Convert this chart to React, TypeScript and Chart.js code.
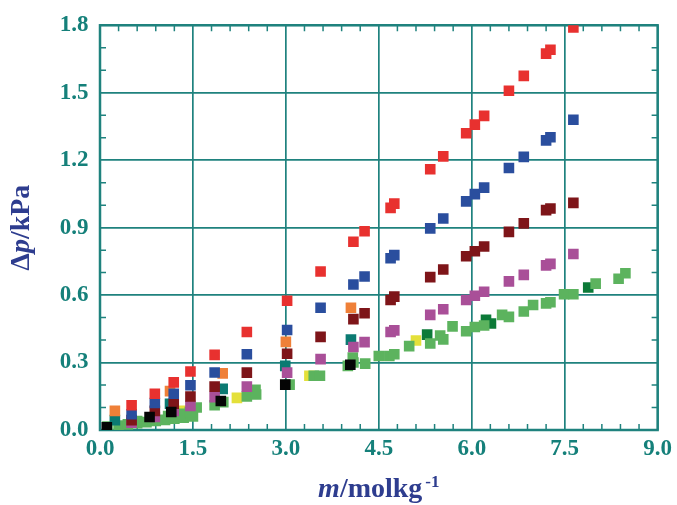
import React, { useEffect, useRef } from 'react';
import { Chart, registerables } from 'chart.js';

Chart.register(...registerables);

// ---- data ----
const X_MIN = 0;
const X_MAX = 9;
const X_STEP = 1.5;
const X_MINOR = 0.3;
const Y_MIN = 0;
const Y_MAX = 1.8;
const Y_STEP = 0.3;
const Y_MINOR = 0.1;

const mainX = [0.51, 0.885, 1.19, 1.46, 1.85, 2.37, 3.02, 3.56, 4.09, 4.27, 4.69, 4.75, 5.33, 5.54, 5.91, 6.05, 6.2, 6.6, 6.84, 7.2, 7.27, 7.64];
const redY = [0.11, 0.161, 0.212, 0.26, 0.334, 0.436, 0.575, 0.705, 0.837, 0.884, 0.988, 1.007, 1.16, 1.217, 1.32, 1.358, 1.397, 1.509, 1.575, 1.674, 1.691, 1.79];
const blueY = [0.07, 0.12, 0.161, 0.199, 0.256, 0.337, 0.445, 0.544, 0.647, 0.683, 0.764, 0.778, 0.897, 0.941, 1.017, 1.049, 1.078, 1.165, 1.215, 1.288, 1.302, 1.38];
const darkRedY = [0.044, 0.085, 0.117, 0.149, 0.193, 0.255, 0.339, 0.414, 0.493, 0.519, 0.578, 0.593, 0.68, 0.714, 0.773, 0.795, 0.816, 0.881, 0.919, 0.978, 0.985, 1.01];
const magentaY = [0.032, 0.058, 0.085, 0.107, 0.146, 0.193, 0.255, 0.315, 0.369, 0.391, 0.436, 0.443, 0.512, 0.537, 0.578, 0.597, 0.615, 0.661, 0.69, 0.732, 0.739, 0.783];

const orangeX = [0.24, 1.13, 1.98, 3.0, 4.05];
const orangeY = [0.085, 0.173, 0.252, 0.392, 0.544];
const tealX = [0.24, 1.13, 1.98, 2.99, 4.05];
const tealY = [0.044, 0.117, 0.183, 0.285, 0.402];
const blackX = [0.11, 0.8, 1.15, 1.95, 2.99, 4.04];
const blackY = [0.012, 0.058, 0.08, 0.129, 0.202, 0.29];
const yellowX = [1.34, 2.21, 3.38, 5.1];
const yellowY = [0.085, 0.143, 0.241, 0.398];
const darkGreenX = [5.28, 6.23, 6.31, 7.88];
const darkGreenY = [0.424, 0.49, 0.474, 0.634];
const greenX = [0.12, 0.3, 0.45, 0.6, 0.75, 0.9, 1.05, 1.2, 1.35, 1.5, 0.6, 0.85, 1.1, 1.3, 1.45, 1.56, 1.85, 1.99, 2.37, 2.51, 2.52, 3.06, 3.45, 3.55, 4.0, 4.08, 4.09, 4.28, 4.5, 4.67, 4.75, 4.99, 5.33, 5.49, 5.54, 5.69, 5.91, 6.05, 6.2, 6.49, 6.6, 6.84, 6.99, 7.2, 7.27, 7.49, 7.64, 8.0, 8.37, 8.48];
const greenY = [0.015, 0.02, 0.025, 0.03, 0.035, 0.04, 0.045, 0.05, 0.055, 0.06, 0.04, 0.05, 0.062, 0.072, 0.08, 0.1, 0.11, 0.124, 0.149, 0.179, 0.158, 0.202, 0.241, 0.241, 0.285, 0.322, 0.3, 0.295, 0.329, 0.329, 0.337, 0.373, 0.385, 0.42, 0.403, 0.461, 0.439, 0.458, 0.465, 0.512, 0.503, 0.527, 0.556, 0.563, 0.568, 0.604, 0.604, 0.651, 0.673, 0.697];

const X_TITLE_ITALIC = 'm';
const X_TITLE_REST = '/molkg';
const X_TITLE_SUP = '-1';
const Y_TITLE_A = 'Δ';
const Y_TITLE_ITALIC = 'p';
const Y_TITLE_REST = '/kPa';

// ---- styles ----
const TEAL = '#1f827e';
const LABEL_TEAL = '#15807a';
const TITLE_BLUE = '#2e3d8f';
const FONT = '"Liberation Serif", "Times New Roman", serif';

const pts = (xs: number[], ys: number[]) => xs.map((x, i) => ({ x, y: ys[i] }));

const decorPlugin = {
  id: 'decor',
  beforeDatasetsDraw(chart: any) {
    const { ctx, chartArea: a, scales } = chart;
    const xs = scales.x;
    const ys = scales.y;
    ctx.save();
    ctx.strokeStyle = TEAL;
    ctx.lineWidth = 1.5;
    const len = 6;
    for (let v = X_MIN + X_MINOR; v < X_MAX - 1e-6; v += X_MINOR) {
      const r = v / X_STEP;
      if (Math.abs(r - Math.round(r)) < 1e-6) continue;
      const px = xs.getPixelForValue(v);
      ctx.beginPath();
      ctx.moveTo(px, a.bottom);
      ctx.lineTo(px, a.bottom - len);
      ctx.moveTo(px, a.top);
      ctx.lineTo(px, a.top + len);
      ctx.stroke();
    }
    for (let v = Y_MIN + Y_MINOR; v < Y_MAX - 1e-6; v += Y_MINOR) {
      const r = v / Y_STEP;
      if (Math.abs(r - Math.round(r)) < 1e-6) continue;
      const py = ys.getPixelForValue(v);
      ctx.beginPath();
      ctx.moveTo(a.left, py);
      ctx.lineTo(a.left + len, py);
      ctx.moveTo(a.right, py);
      ctx.lineTo(a.right - len, py);
      ctx.stroke();
    }
    ctx.lineWidth = 2.5;
    ctx.strokeRect(a.left, a.top, a.right - a.left, a.bottom - a.top);
    ctx.restore();
  },
  afterDraw(chart: any) {
    const { ctx, chartArea: a } = chart;
    ctx.save();
    ctx.fillStyle = TITLE_BLUE;
    ctx.textBaseline = 'alphabetic';
    ctx.textAlign = 'left';
    const fN = `bold 28px ${FONT}`;
    const fI = `italic bold 28px ${FONT}`;
    const fS = `bold 17px ${FONT}`;
    // x title
    ctx.font = fI;
    const w1 = ctx.measureText(X_TITLE_ITALIC).width;
    ctx.font = fN;
    const w2 = ctx.measureText(X_TITLE_REST).width;
    ctx.font = fS;
    const w3 = ctx.measureText(X_TITLE_SUP).width;
    const cx = (a.left + a.right) / 2;
    let x0 = cx - (w1 + w2 + w3 + 3) / 2;
    const by = 497;
    ctx.font = fI;
    ctx.fillText(X_TITLE_ITALIC, x0, by);
    x0 += w1;
    ctx.font = fN;
    ctx.fillText(X_TITLE_REST, x0, by);
    x0 += w2 + 3;
    ctx.font = fS;
    ctx.fillText(X_TITLE_SUP, x0, by - 10);
    // y title
    ctx.font = fN;
    const v1 = ctx.measureText(Y_TITLE_A).width;
    ctx.font = fI;
    const v2 = ctx.measureText(Y_TITLE_ITALIC).width;
    ctx.font = fN;
    const v3 = ctx.measureText(Y_TITLE_REST).width;
    const cy = (a.top + a.bottom) / 2;
    ctx.translate(29, cy);
    ctx.rotate(-Math.PI / 2);
    let t = -(v1 + v2 + v3) / 2;
    ctx.font = fN;
    ctx.fillText(Y_TITLE_A, t, 0);
    t += v1;
    ctx.font = fI;
    ctx.fillText(Y_TITLE_ITALIC, t, 0);
    t += v2;
    ctx.font = fN;
    ctx.fillText(Y_TITLE_REST, t, 0);
    ctx.restore();
  },
};

export default function App() {
  const ref = useRef<HTMLCanvasElement | null>(null);
  useEffect(() => {
    if (!ref.current) return;
    const mk = (label: string, xs: number[], ys: number[], color: string) => ({
      label,
      data: pts(xs, ys),
      backgroundColor: color,
      borderColor: color,
      borderWidth: 0,
      pointStyle: 'rect',
      pointRadius: 7.5,
      pointHoverRadius: 7.5,
      showLine: false,
    });
    const chart = new Chart(ref.current, {
      type: 'scatter',
      data: {
        datasets: [
          mk('black', blackX, blackY, '#050505'),
          mk('red', mainX, redY, '#e8312f'),
          mk('blue', mainX, blueY, '#2a4e9e'),
          mk('darkred', mainX, darkRedY, '#7e1519'),
          mk('magenta', mainX, magentaY, '#a94f98'),
          mk('orange', orangeX, orangeY, '#ef8038'),
          mk('teal', tealX, tealY, '#0b7a72'),
          mk('green', greenX, greenY, '#5cb35e'),
          mk('darkgreen', darkGreenX, darkGreenY, '#0c7a38'),
          mk('yellow', yellowX, yellowY, '#e4e03a'),
        ] as any,
      },
      options: {
        animation: false,
        responsive: false,
        maintainAspectRatio: false,
        layout: { padding: { top: 20, right: 18, left: 0, bottom: 0 } },
        plugins: { legend: { display: false }, tooltip: { enabled: false } },
        scales: {
          x: {
            type: 'linear',
            min: X_MIN,
            max: X_MAX,
            afterFit: (s: any) => { s.height = 75; },
            afterBuildTicks: (s: any) => {
              const t = [];
              for (let v = X_MIN; v <= X_MAX + 1e-6; v += X_STEP) t.push({ value: +v.toFixed(2) });
              s.ticks = t;
            },
            ticks: {
              color: LABEL_TEAL,
              font: { family: FONT, size: 23, weight: 'bold' },
              padding: 5,
              maxRotation: 0,
              callback: (v: any) => Number(v).toFixed(1),
            },
            grid: { color: TEAL, lineWidth: 1.7, drawTicks: false },
            border: { display: false },
          },
          y: {
            type: 'linear',
            min: Y_MIN,
            max: Y_MAX,
            afterFit: (s: any) => { s.width = 100; },
            afterBuildTicks: (s: any) => {
              const t = [];
              for (let v = Y_MIN; v <= Y_MAX + 1e-6; v += Y_STEP) t.push({ value: +v.toFixed(2) });
              s.ticks = t;
            },
            ticks: {
              color: LABEL_TEAL,
              font: { family: FONT, size: 23, weight: 'bold' },
              padding: 11.5,
              callback: (v: any) => Number(v).toFixed(1),
            },
            grid: { color: TEAL, lineWidth: 1.7, drawTicks: false },
            border: { display: false },
          },
        },
      } as any,
      plugins: [decorPlugin],
    });
    return () => chart.destroy();
  }, []);
  return (
    <div style={{ position: 'fixed', left: 0, top: 0, width: 677, height: 505, background: '#fff' }}>
      <canvas ref={ref} width={677} height={505} style={{ width: 677, height: 505 }} />
    </div>
  );
}
